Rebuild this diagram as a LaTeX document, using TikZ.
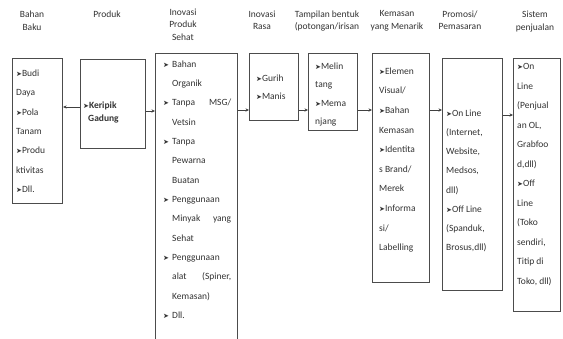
\documentclass[tikz,border=0pt]{standalone}
\usepackage{fontspec}
\setmainfont{Carlito}
\newfontfamily\dejavu{DejaVu Sans}
\usetikzlibrary{arrows.meta}
\newcommand\bul{{\dejavu\fontsize{7}{7}\selectfont ➤}}
\newcommand\bsp{\makebox[9pt][l]{\bul}}
\newcommand\isp{\hspace*{9pt}}
\tikzset{
  box/.style={draw=black!70, line width=1.1pt, inner sep=0pt, anchor=north west},
  txt/.style={anchor=north west, inner sep=0pt, align=left, text=black!80,
    font=\fontsize{9.5}{#1}\selectfont},
  hdr/.style={anchor=north, align=center, inner sep=0pt, text=black!80,
    font=\fontsize{9.5}{#1}\selectfont},
  arr/.style={-{Stealth[length=3.5pt,width=3.2pt]}, line width=0.9pt, draw=black!75}
}
\begin{document}
\begin{tikzpicture}[x=1pt,y=-1pt]
\clip (0,0) rectangle (563,338);
\useasboundingbox[fill=white] (0,0) rectangle (563,338);

% headers
\node[hdr=13.5] (h1) at (32,10.5) {Bahan\\Baku};
\node[hdr=13] (h2) at (107,10.5) {Produk};
\node[hdr=12.5] (h3) at (183,8.5) {Inovasi\\Produk\\Sehat};
\node[hdr=12.5] (h4) at (262,10.5) {Inovasi\\Rasa};
\node[hdr=12.5] (h5) at (327,10.5) {Tampilan bentuk\\(potongan/irisan};
\node[hdr=12.5] (h6) at (397,10.5) {Kemasan\\yang Menarik};
\node[hdr=12.5] (h7) at (460,10.5) {Promosi/\\Pemasaran};
\node[hdr=13] (h8) at (535,10.5) {Sistem\\penjualan};

% boxes
\node[box, minimum width=50pt, minimum height=145pt] (b1) at (12,58) {};
\node[box, minimum width=65pt, minimum height=89pt] (b2) at (80,59) {};
\node[box, minimum width=82pt, minimum height=300pt] (b3) at (155,53) {};
\node[box, minimum width=49pt, minimum height=67pt] (b4) at (249,53) {};
\node[box, minimum width=49pt, minimum height=77pt] (b5) at (308,53) {};
\node[box, minimum width=57pt, minimum height=229pt] (b6) at (372,53) {};
\node[box, minimum width=60pt, minimum height=232pt] (b7) at (442,58) {};
\node[box, minimum width=47pt, minimum height=253pt] (b8) at (513,58) {};

% box texts
\node[txt=19.4] (t1) at (16,69.5) {\bul Budi\\Daya\\\bul Pola\\Tanam\\\bul Produ\\ktivitas\\\bul Dll.};
\node[txt=13] (t2) at (83,101.5) {\bul\textbf{Keripik}\\\hspace*{5pt}\textbf{Gadung}};
\node[txt=19.33] (t3) at (163,60.5) {\bsp Bahan\\\isp Organik\\\bsp\makebox[59pt][s]{Tanpa MSG/}\\\isp Vetsin\\\bsp Tanpa\\\isp Pewarna\\\isp Buatan\\\bsp Penggunaan\\\isp\makebox[59pt][s]{Minyak yang}\\\isp Sehat\\\bsp Penggunaan\\\isp\makebox[59pt][s]{alat (Spiner,}\\\isp Kemasan)\\\bsp Dll.};
\node[txt=18] (t4) at (256,74.5) {\bul Gurih\\\bul Manis};
\node[txt=18.5] (t5) at (315,62.5) {\bul Melin\\tang\\\bul Mema\\njang};
\node[txt=19.6] (t6) at (379,67.5) {\bul Elemen\\Visual/\\\bul Bahan\\Kemasan\\\bul Identita\\s Brand/\\Merek\\\bul Informa\\si/\\Labelling};
\node[txt=19.2] (t7) at (446,109.5) {\bul On Line\\(Internet,\\Website,\\Medsos,\\dll)\\\bul Off Line\\(Spanduk,\\Brosus,dll)};
\node[txt=19.5] (t8) at (517,63.5) {\bul On\\Line\\(Penjual\\an OL,\\Grabfoo\\d,dll)\\\bul Off\\Line\\(Toko\\sendiri,\\Titip di\\Toko, dll)};

% connectors
\draw[arr] (b2.west |- 0,107) -- (b1.east |- 0,107);
\draw[arr] (b2.east |- 0,111) -- (b3.west |- 0,111);
\draw[arr] (b3.east |- 0,110) -- (b4.west |- 0,110);
\draw[arr] (b4.east |- 0,110) -- (b5.west |- 0,110);
\draw[arr] (b5.east |- 0,110) -- (b6.west |- 0,110);
\draw[arr] (b6.east |- 0,110) -- (b7.west |- 0,110);
\draw[arr] (b7.east |- 0,115) -- (b8.west |- 0,115);
\end{tikzpicture}
\end{document}
